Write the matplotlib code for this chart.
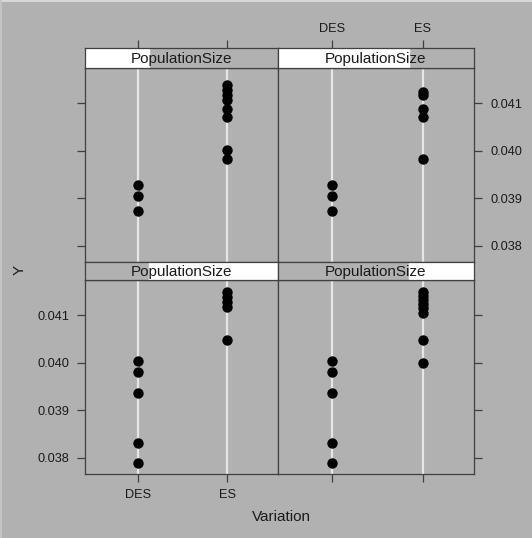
import matplotlib
matplotlib.use("Agg")
import matplotlib.pyplot as plt
import numpy as np

plt.rcParams['font.family'] = ['Liberation Sans', 'DejaVu Sans']

categories = ["DES", "ES"]
y_ticks = [0.038, 0.039, 0.040, 0.041]
y_tick_labels = ["0.038", "0.039", "0.040", "0.041"]
strip_label = "PopulationSize"

# panels: top-left, top-right, bottom-left, bottom-right
tl_des = [0.039274, 0.039048, 0.038726]
tl_es = [0.041379, 0.041274, 0.041168, 0.041063, 0.040874, 0.040705, 0.040025, 0.039836]
tr_des = [0.039274, 0.039048, 0.038726]
tr_es = [0.041238, 0.041168, 0.040874, 0.040699, 0.039821]
bl_des = [0.040038, 0.039806, 0.039364, 0.038312, 0.037899]
bl_es = [0.041491, 0.041385, 0.041280, 0.041162, 0.040474]
br_des = [0.040038, 0.039806, 0.039364, 0.038312, 0.037899]
br_es = [0.041491, 0.041406, 0.041316, 0.041225, 0.041141, 0.041036, 0.040474, 0.040004]

# shingle level range shown in each strip (fraction of strip width)
strip_ranges = {"tl": (0.0, 0.33), "tr": (0.0, 0.67), "bl": (0.33, 1.0), "br": (0.67, 1.0)}

W, H = 532, 538
BG = "#b1b1b1"
fig = plt.figure(figsize=(W / 100, H / 100), dpi=100, facecolor=BG)

def fx(px):
    return px / W

def fy(py):
    return 1 - py / H

xl = (0.40, 2.57)
yl = (0.03766, 0.04174)
panel_px = {
    "tl": (85, 278, 68, 262),
    "tr": (278, 474, 68, 262),
    "bl": (85, 278, 280, 474),
    "br": (278, 474, 280, 474),
}
strip_px = {
    "tl": (48, 68), "tr": (48, 68), "bl": (262, 280), "br": (262, 280),
}
data = {
    "tl": (tl_des, tl_es), "tr": (tr_des, tr_es),
    "bl": (bl_des, bl_es), "br": (br_des, br_es),
}
edge = "#404040"
ticklen = 8 * 0.72

for key, (x0, x1, y0, y1) in panel_px.items():
    ax = fig.add_axes([fx(x0), fy(y1), fx(x1) - fx(x0), fy(y0) - fy(y1)])
    ax.set_facecolor(BG)
    ax.set_xlim(*xl)
    ax.set_ylim(*yl)
    des, es = data[key]
    for i, vals in enumerate([des, es]):
        xpos = i + 1
        ax.axvline(xpos, color="#e6e6e6", lw=1.6, zorder=1)
        ax.scatter(np.full(len(vals), xpos), vals, s=56, color="black", zorder=3, linewidths=0)
    for s in ax.spines.values():
        s.set_color(edge)
        s.set_linewidth(0.9)
    ax.set_xticks([1, 2])
    ax.set_yticks(y_ticks)
    ax.tick_params(direction="out", length=ticklen, width=0.9, color=edge,
                   labelsize=9.2, labelcolor="#1a1a1a")
    top = key in ("tl", "tr")
    left = key in ("tl", "bl")
    # y ticks
    if left:
        ax.yaxis.tick_left()
        ax.set_yticklabels(y_tick_labels if key == "bl" else [""] * 4)
    else:
        ax.yaxis.tick_right()
        ax.set_yticklabels(y_tick_labels if key == "tr" else [""] * 4)
    ax.tick_params(axis="y", pad=5.8)
    # x ticks
    if top:
        ax.tick_params(axis="x", bottom=False, labelbottom=False)
    else:
        ax.xaxis.tick_bottom()
        ax.set_xticklabels(categories if key == "bl" else ["", ""])
        ax.tick_params(axis="x", pad=5)

    # strip
    sy0, sy1 = strip_px[key]
    sax = fig.add_axes([fx(x0), fy(sy1), fx(x1) - fx(x0), fy(sy0) - fy(sy1)])
    sax.set_facecolor(BG)
    sax.set_xlim(0, 1)
    sax.set_ylim(0, 1)
    a, b = strip_ranges[key]
    sax.axvspan(a, b, color="white", zorder=0)
    sax.text(0.5, 0.45, strip_label, ha="center", va="center", fontsize=11, color="#1a1a1a")
    for s in sax.spines.values():
        s.set_color(edge)
        s.set_linewidth(0.9)
    sax.set_yticks([])
    if top:
        tax = sax.twiny()
        tax.set_xlim(*xl)
        tax.set_xticks([1, 2])
        tax.set_xticklabels(categories if key == "tr" else ["", ""])
        tax.tick_params(direction="out", length=ticklen, width=0.9, color=edge,
                        labelsize=9.2, labelcolor="#1a1a1a", pad=3.5)
        for s in tax.spines.values():
            s.set_visible(False)
    sax.set_xticks([])

fig.text(fx(281), fy(517), "Variation", ha="center", va="center", fontsize=11, color="#1a1a1a")
fig.text(fx(20), fy(270), "Y", ha="center", va="center", rotation=90, fontsize=11, color="#1a1a1a")

# light frame lines at top and left edges
fig.add_artist(plt.Line2D([0, 1], [1 - 1 / H, 1 - 1 / H], color="#d8d8d8", lw=1.5, transform=fig.transFigure))
fig.add_artist(plt.Line2D([1 / W, 1 / W], [0, 1], color="#c4c4c4", lw=1.5, transform=fig.transFigure))

fig.savefig("out.png", dpi=100, facecolor=BG)
